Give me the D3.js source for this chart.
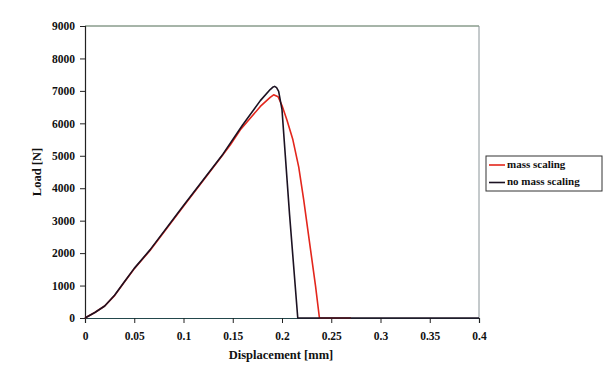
<!DOCTYPE html>
<html>
<head>
<meta charset="utf-8">
<script src="https://cdn.jsdelivr.net/npm/d3@7"></script>
<style>
  body { margin: 0; background: #fff; }
  svg { display: block; }
  text { font-family: "Liberation Serif", "Times New Roman", serif; font-weight: bold; fill: #111; }
</style>
</head>
<body>
<svg id="chart" width="616" height="367"></svg>
<script>
// displacement [mm] / load [N]
var massDisp  = [0, 0.01, 0.02, 0.03, 0.04, 0.05, 0.066, 0.1, 0.14, 0.1476, 0.1577, 0.178, 0.188, 0.1915, 0.196, 0.2, 0.205, 0.211, 0.217, 0.222, 0.229, 0.234, 0.238, 0.27];
var massLoad  = [0, 170, 370, 690, 1110, 1520, 2080, 3440, 5030, 5340, 5800, 6520, 6800, 6880, 6820, 6550, 6100, 5500, 4650, 3650, 2100, 1000, 0, 0];
var noMassDisp = [0, 0.01, 0.02, 0.03, 0.04, 0.05, 0.066, 0.1, 0.14, 0.16, 0.178, 0.188, 0.1905, 0.1925, 0.1945, 0.1966, 0.2, 0.2077, 0.216, 0.4];
var noMassLoad = [0, 170, 370, 700, 1120, 1530, 2100, 3470, 5050, 5950, 6700, 7040, 7110, 7140, 7100, 6985, 6420, 3180, 0, 0];

var xTicks = [0, 0.05, 0.1, 0.15, 0.2, 0.25, 0.3, 0.35, 0.4];
var yTicks = [0, 1000, 2000, 3000, 4000, 5000, 6000, 7000, 8000, 9000];
var seriesNames = ["mass scaling", "no mass scaling"];
var seriesColors = ["#e3261c", "#1c1222"];

var svg = d3.select("#chart");
var plotLeft = 85, plotRight = 479, plotTop = 26, plotBottom = 318;

var x = d3.scaleLinear().domain([0, 0.4]).range([plotLeft, plotRight]);
var y = d3.scaleLinear().domain([0, 9000]).range([plotBottom, plotTop]);

// frame: top and right edges
svg.append("line").attr("x1", plotLeft).attr("x2", plotRight).attr("y1", plotTop).attr("y2", plotTop)
    .attr("stroke", "#4f6a52").attr("stroke-width", 1);
svg.append("line").attr("x1", plotRight).attr("x2", plotRight).attr("y1", plotTop).attr("y2", plotBottom)
    .attr("stroke", "#8a9498").attr("stroke-width", 1);

// axes
var xAxis = svg.append("g")
    .attr("transform", "translate(0," + plotBottom + ")")
    .call(d3.axisBottom(x).tickValues(xTicks).tickFormat(d => d3.format("")(d)).tickSize(5).tickPadding(9));
var yAxis = svg.append("g")
    .attr("transform", "translate(" + plotLeft + ",0)")
    .call(d3.axisLeft(y).tickValues(yTicks).tickFormat(d3.format("d")).tickSize(5).tickPadding(5));

[xAxis, yAxis].forEach(function(a){
    a.selectAll("text").style("font-size", "11.5px").attr("fill", "#111");
    a.selectAll("line").attr("stroke", "#222");
});
xAxis.select(".domain").attr("stroke", "#23484c").attr("stroke-width", 1.2);
yAxis.select(".domain").attr("stroke", "#222").attr("stroke-width", 1.2);

// axis titles
svg.append("text")
    .attr("x", (plotLeft + plotRight) / 2 - 1).attr("y", 359)
    .attr("text-anchor", "middle")
    .style("font-size", "12.5px")
    .text("Displacement [mm]");
svg.append("text")
    .attr("transform", "translate(41," + ((plotTop + plotBottom) / 2) + ") rotate(-90)")
    .attr("text-anchor", "middle")
    .style("font-size", "12.5px")
    .text("Load [N]");

// curves
var line = d3.line().x(d => x(d[0])).y(d => y(d[1]));
var series = [d3.zip(massDisp, massLoad), d3.zip(noMassDisp, noMassLoad)];

svg.selectAll(".curve")
    .data(series)
    .enter()
    .append("path")
    .attr("class", "curve")
    .attr("fill", "none")
    .attr("stroke", (d, i) => seriesColors[i])
    .attr("stroke-width", 1.6)
    .attr("stroke-linejoin", "round")
    .attr("d", line);

// legend
var legend = svg.append("g").attr("transform", "translate(486,156)");
legend.append("rect")
    .attr("width", 116).attr("height", 35)
    .attr("fill", "#fff")
    .attr("stroke", "#333").attr("stroke-width", 1);

var items = legend.selectAll(".item")
    .data(seriesNames)
    .enter()
    .append("g")
    .attr("class", "item")
    .attr("transform", (d, i) => "translate(0," + (9 + i * 17.5) + ")");
items.append("line")
    .attr("x1", 3).attr("x2", 19)
    .attr("stroke", (d, i) => seriesColors[i])
    .attr("stroke-width", 1.6);
items.append("text")
    .attr("x", 21).attr("y", 0)
    .attr("dominant-baseline", "middle")
    .style("font-size", "11px")
    .text(d => d);
</script>
</body>
</html>
